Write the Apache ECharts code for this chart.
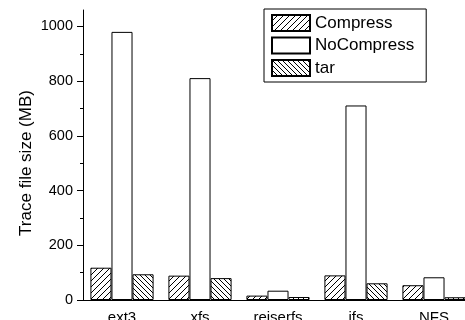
<!DOCTYPE html>
<html>
<head>
<meta charset="utf-8">
<script src="https://cdn.jsdelivr.net/npm/echarts@6/dist/echarts.min.js"></script>
<style>
  html, body { margin: 0; padding: 0; background: #fff; }
  #main { width: 465px; height: 320px; }
</style>
</head>
<body>
<div id="main"></div>
<script>
let categories = ['ext3', 'xfs', 'reiserfs', 'jfs', 'NFS'];
let compress = [118, 89, 16, 90, 54];
let noCompress = [980, 811, 34, 711, 83];
let tar = [94, 80, 11, 61, 10];
let yLabels = [0, 200, 400, 600, 800, 1000];
let yMinor = [100, 300, 500, 700, 900];

// hatch fill made on a small canvas
function hatch(size, dir) {
    let c = document.createElement('canvas');
    c.width = size;
    c.height = size;
    let ctx = c.getContext('2d');
    ctx.fillStyle = '#fff';
    ctx.fillRect(0, 0, size, size);
    ctx.strokeStyle = '#000';
    ctx.lineWidth = 1;
    ctx.beginPath();
    if (dir > 0) { // "/"
        ctx.moveTo(-1, size + 1); ctx.lineTo(size + 1, -1);
        ctx.moveTo(-1, 1); ctx.lineTo(1, -1);
        ctx.moveTo(size - 1, size + 1); ctx.lineTo(size + 1, size - 1);
    } else { // "\"
        ctx.moveTo(-1, -1); ctx.lineTo(size + 1, size + 1);
        ctx.moveTo(size - 1, -1); ctx.lineTo(size + 1, 1);
        ctx.moveTo(-1, size - 1); ctx.lineTo(1, size + 1);
    }
    ctx.stroke();
    return c;
}

let font = 'Liberation Sans, Arial, sans-serif';

function bar(name, data, fill) {
    return {
        name: name,
        type: 'bar',
        data: data,
        barGap: 0,
        barCategoryGap: '19%',
        itemStyle: { color: fill, borderColor: '#000', borderWidth: 1 },
        emphasis: { disabled: true }
    };
}

let chart = echarts.init(document.getElementById('main'));
chart.setOption({
    animation: false,
    textStyle: { fontFamily: font, color: '#000' },
    grid: { left: 83, top: 10, right: -8, bottom: 20, containLabel: false, outerBoundsMode: 'none' },
    legend: {
        left: 264, top: 9,
        orient: 'vertical',
        icon: 'rect',
        padding: [5, 12, 5, 7],
        itemWidth: 38, itemHeight: 16, itemGap: 4.5,
        borderColor: '#000', borderWidth: 1, borderRadius: 0,
        textStyle: { fontFamily: font, fontSize: 17, color: '#000' },
        selectedMode: false
    },
    xAxis: [{
        type: 'category',
        data: categories,
        axisLine: { lineStyle: { color: '#000', width: 1 } },
        axisTick: { alignWithLabel: true, length: 5, lineStyle: { color: '#000' } },
        axisLabel: { color: '#000', fontFamily: font, fontSize: 15, margin: 10 }
    }, {
        type: 'category',
        data: categories,
        position: 'bottom',
        offset: 0,
        axisLine: { show: false },
        axisTick: { length: 3, lineStyle: { color: '#000' } },
        axisLabel: { show: false }
    }],
    yAxis: [{
        type: 'value',
        min: 0, max: 1060,
        position: 'left',
        name: 'Trace file size (MB)',
        nameLocation: 'middle',
        nameGap: 48,
        nameMoveOverlap: false,
        nameTextStyle: { fontFamily: font, fontSize: 17, color: '#000', padding: [0, 16, 0, 0] },
        splitLine: { show: false },
        axisLine: { show: true, lineStyle: { color: '#000', width: 1 } },
        axisTick: { show: true, length: 6, customValues: yLabels, lineStyle: { color: '#000' } },
        axisLabel: {
            color: '#000', fontFamily: font, fontSize: 14.5, margin: 10,
            customValues: yLabels,
            formatter: function (v) { return String(v); }
        }
    }, {
        type: 'value',
        min: 0, max: 1060,
        position: 'left',
        offset: 0,
        splitLine: { show: false },
        axisLine: { show: false },
        axisTick: { show: true, length: 3, customValues: yMinor, lineStyle: { color: '#000' } },
        axisLabel: { show: false }
    }],
    series: [
        bar('Compress', compress, { image: hatch(6, 1), repeat: 'repeat' }),
        bar('NoCompress', noCompress, '#fff'),
        bar('tar', tar, { image: hatch(5, -1), repeat: 'repeat' })
    ]
});
</script>
</body>
</html>
